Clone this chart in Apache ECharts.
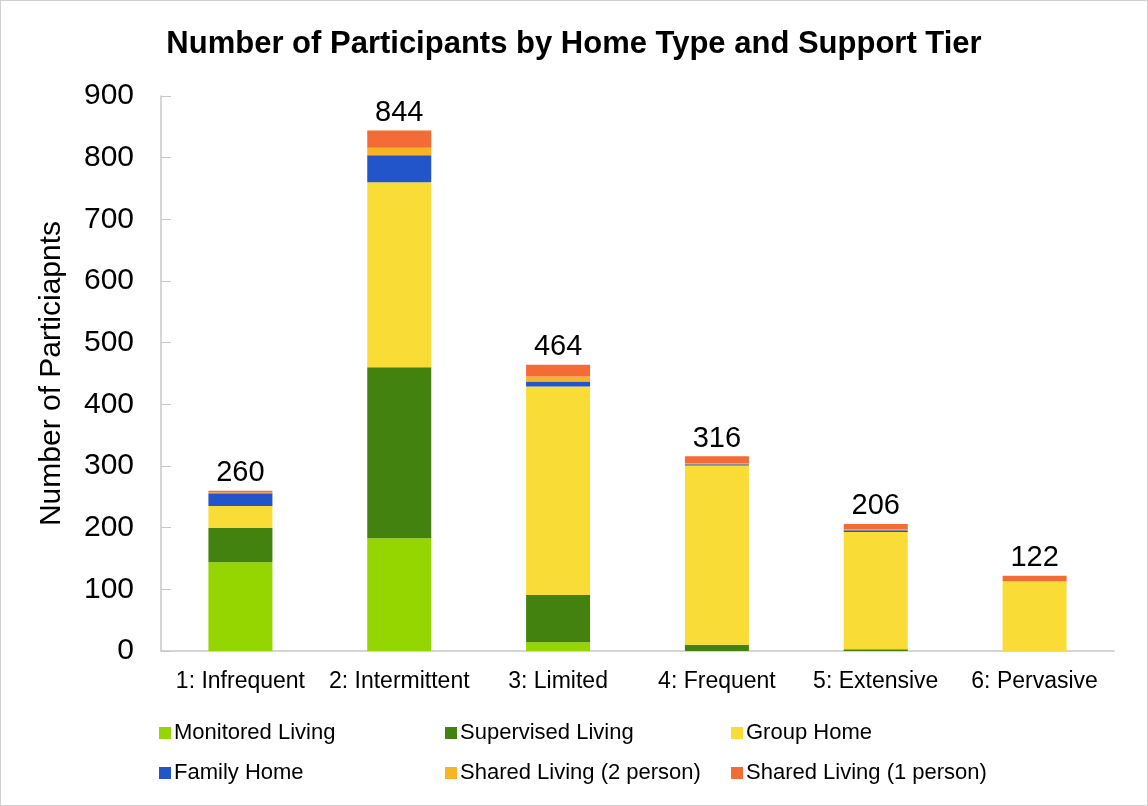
<!DOCTYPE html>
<html>
<head>
<meta charset="utf-8">
<title>home_type_support_tier</title>
<script src="https://cdn.jsdelivr.net/npm/echarts@6/dist/echarts.min.js"></script>
<style>
  html, body { margin: 0; padding: 0; background: #fff; }
  #main { width: 1146px; height: 804px; border: 1px solid #d0d0d0; }
</style>
</head>
<body>
<div id="main"></div>
<script>
var tiers = ['1: Infrequent', '2: Intermittent', '3: Limited', '4: Frequent', '5: Extensive', '6: Pervasive'];
var seriesNames = ['Monitored Living', 'Supervised Living', 'Group Home', 'Family Home', 'Shared Living (2 person)', 'Shared Living (1 person)'];
var colors = ['#95D600', '#43820F', '#FADC36', '#2155C9', '#F8B424', '#F36C35'];

var monitored = [144, 183, 14, 0, 0, 0];
var supervised = [56, 277, 77, 10, 3, 0];
var groupHome = [35, 300, 338, 291, 190, 113];
var familyHome = [21, 44, 8, 2, 3, 0];
var shared2 = [1, 12, 8, 1, 1, 0];
var shared1 = [3, 28, 19, 12, 9, 9];

var allData = [monitored, supervised, groupHome, familyHome, shared2, shared1];
var totals = tiers.map(function (t, i) {
    return allData.reduce(function (s, arr) { return s + arr[i]; }, 0);
});

var FONT = 'Liberation Sans, Arial, sans-serif';
var myChart = echarts.init(document.getElementById('main'));

var series = seriesNames.map(function (name, k) {
    var s = {
        name: name,
        type: 'bar',
        stack: 'total',
        barWidth: 64,
        itemStyle: { color: colors[k] },
        data: allData[k]
    };
    if (k === seriesNames.length - 1) {
        s.label = {
            show: true,
            position: 'top',
            distance: 3,
            fontFamily: FONT,
            fontSize: 29,
            color: '#000',
            formatter: function (p) { return totals[p.dataIndex]; }
        };
    }
    return s;
});

function legendCol(left, names) {
    return {
        left: left,
        top: 716,
        orient: 'vertical',
        itemGap: 18,
        itemWidth: 12,
        itemHeight: 12,
        icon: 'rect',
        data: names,
        textStyle: { fontFamily: FONT, fontSize: 22, color: '#000', padding: [0, 0, 0, -2] }
    };
}

var option = {
    animation: false,
    title: {
        text: 'Number of Participants by Home Type and Support Tier',
        left: 'center',
        top: 23,
        textStyle: { fontFamily: FONT, fontSize: 31, fontWeight: 'bold', color: '#000' }
    },
    legend: [
        legendCol(153, [seriesNames[0], seriesNames[3]]),
        legendCol(439, [seriesNames[1], seriesNames[4]]),
        legendCol(725, [seriesNames[2], seriesNames[5]])
    ],
    grid: { left: 160, right: 33, top: 95, bottom: 154 },
    xAxis: {
        type: 'category',
        data: tiers,
        axisLine: { lineStyle: { color: '#c8c8c8', width: 1.5 } },
        axisTick: { show: false },
        axisLabel: { interval: 0, fontFamily: FONT, fontSize: 23, color: '#000', margin: 19 }
    },
    yAxis: {
        type: 'value',
        min: 0,
        max: 900,
        interval: 100,
        name: 'Number of Particiapnts',
        nameLocation: 'middle',
        nameGap: 94,
        nameTextStyle: { fontFamily: FONT, fontSize: 30, color: '#000' },
        axisLine: { show: true, lineStyle: { color: '#c8c8c8', width: 1.5 } },
        axisTick: { show: true, inside: true, length: 10, lineStyle: { color: '#c8c8c8' } },
        splitLine: { show: false },
        axisLabel: { fontFamily: FONT, fontSize: 30, color: '#000', margin: 27 }
    },
    series: series
};
myChart.setOption(option);
</script>
</body>
</html>
